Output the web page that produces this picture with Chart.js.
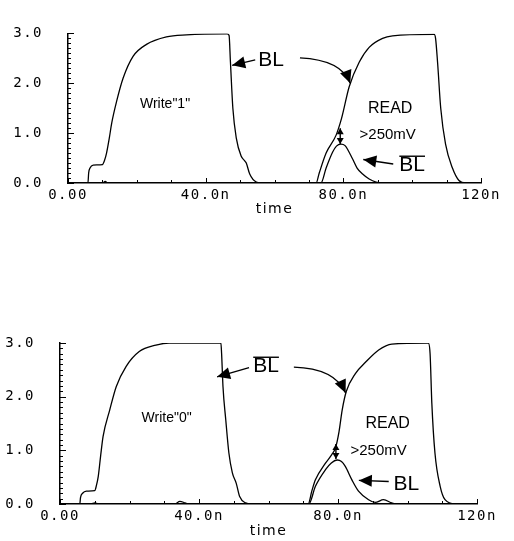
<!DOCTYPE html>
<html>
<head>
<meta charset="utf-8">
<script src="https://cdn.jsdelivr.net/npm/chart.js@4.4.1/dist/chart.umd.min.js"></script>
<style>
  html, body { margin: 0; padding: 0; background: #fff; }
  #wrap { position: relative; width: 514px; height: 541px; }
  .panel { position: absolute; left: 0; width: 514px; }
  #topPanel { top: 0; height: 250px; }
  #bottomPanel { top: 260px; height: 281px; }
</style>
</head>
<body>
<div id="wrap">
  <div class="panel" id="topPanel"><canvas id="topChart" width="514" height="250"></canvas></div>
  <div class="panel" id="bottomPanel"><canvas id="bottomChart" width="514" height="281"></canvas></div>
</div>
<script>
// axes
const xTicks = [0, 40, 80, 120];
const xTickLabels = ['0.00', '40.0n', '80.0n', '120n'];
const yTicks = [0, 1, 2, 3];
const yTickLabels = ['0.0', '1.0', '2.0', '3.0'];

// Write "1" then READ: BL swings full rail, BLbar only bumps
const write1Time = [0, 5.8, 6.0, 6.4, 7.3, 10.0, 10.6, 11.2, 12.0, 12.7, 14.1, 16.0, 18.9, 22.8, 28.6, 34.4, 46.2, 46.8, 47.2, 47.9, 48.9, 50.3, 51.4, 51.8, 52.8, 54.7, 56.5, 72.1, 73.0, 75.0, 77.9, 79.5, 81.7, 84.6, 87.5, 91.4, 94.3, 106.4, 106.8, 107.4, 108.3, 109.7, 111.7, 113.6, 115.6, 120];
const write1BL = [0, 0, 0.2, 0.3, 0.36, 0.37, 0.45, 0.6, 0.9, 1.2, 1.63, 2.1, 2.54, 2.78, 2.93, 2.97, 2.99, 2.96, 2.42, 1.5, 0.9, 0.54, 0.44, 0.4, 0.18, 0.02, 0, 0, 0.2, 0.6, 0.96, 1.3, 1.93, 2.42, 2.72, 2.9, 2.95, 2.98, 2.9, 2.4, 1.5, 0.78, 0.3, 0.05, 0, 0];
const write1BlbTime = [0, 10, 10.8, 11.6, 73.5, 75.0, 76.9, 78.0, 79.3, 80.5, 82.7, 84.0, 85.6, 87.5, 89.5, 92.0, 120];
const write1Blb = [0, 0, 0.03, 0, 0, 0.3, 0.62, 0.74, 0.78, 0.75, 0.48, 0.3, 0.18, 0.08, 0.02, 0, 0];

// Write "0" then READ: BLbar swings, BL only bumps
const write0BlbTime = [0, 5.7, 5.9, 6.5, 7.6, 10.0, 10.5, 11.0, 11.7, 12.4, 14.3, 16.2, 19.0, 22.8, 27.6, 31.4, 46.3, 46.5, 46.9, 47.7, 48.6, 49.6, 50.7, 51.7, 53.4, 55, 71.4, 72.5, 73.5, 76.4, 78.2, 79.3, 80.3, 81.2, 82.4, 85.0, 87.9, 91.7, 95.5, 106.0, 106.5, 107.0, 107.9, 109.4, 110.8, 113.7, 120];
const write0Blb = [0, 0, 0.12, 0.2, 0.24, 0.25, 0.35, 0.51, 0.9, 1.26, 1.75, 2.19, 2.56, 2.84, 2.96, 3.0, 3.0, 2.81, 2.19, 1.57, 0.95, 0.58, 0.39, 0.14, 0.02, 0, 0, 0.25, 0.45, 0.76, 0.92, 1.05, 1.35, 1.75, 2.1, 2.43, 2.64, 2.87, 2.98, 3.0, 2.8, 1.88, 0.95, 0.33, 0.08, 0, 0];
const write0BlTime = [0, 9, 10, 11, 33, 34.5, 36, 37, 71.6, 73.5, 76.4, 78.0, 79.8, 81.0, 82.1, 84.0, 85.9, 88.8, 90.7, 93.1, 95.5, 97, 120];
const write0Bl = [0, 0, 0.02, 0, 0, 0.05, 0.02, 0, 0, 0.33, 0.64, 0.76, 0.82, 0.79, 0.70, 0.45, 0.24, 0.08, 0.03, 0.08, 0.02, 0, 0];

// labels and arrows, in data units (ns, V)
const write1Notes = [
  { type: 'text', at: [59.0, 2.47], text: 'BL', size: 21 },
  { type: 'arrow', from: [54.4, 2.47], to: [47.7, 2.36] },
  { type: 'arrow', from: [67.4, 2.51], ctrl: [79.5, 2.47], to: [82.0, 2.0] },
  { type: 'text', at: [28.2, 1.58], text: 'Write"1"', size: 14 },
  { type: 'text', at: [93.6, 1.49], text: 'READ', size: 16 },
  { type: 'text', at: [92.9, 0.96], text: '>250mV', size: 15 },
  { type: 'double', x: 79.1, from: 1.1, to: 0.78 },
  { type: 'arrow', from: [94.5, 0.38], to: [85.8, 0.47] },
  { type: 'text', at: [100.0, 0.36], text: 'BL', size: 21, bar: true }
];
const write0Notes = [
  { type: 'text', at: [59.3, 2.57], text: 'BL', size: 21, bar: true },
  { type: 'arrow', from: [54.4, 2.54], to: [45.2, 2.37] },
  { type: 'arrow', from: [67.3, 2.55], ctrl: [79.0, 2.53], to: [82.2, 2.07] },
  { type: 'text', at: [30.7, 1.6], text: 'Write"0"', size: 14 },
  { type: 'text', at: [94.3, 1.49], text: 'READ', size: 16 },
  { type: 'text', at: [91.7, 0.99], text: '>250mV', size: 15 },
  { type: 'double', x: 79.4, from: 1.12, to: 0.84 },
  { type: 'arrow', from: [94.6, 0.42], to: [86.0, 0.44] },
  { type: 'text', at: [99.7, 0.36], text: 'BL', size: 21 }
];

function points(xs, ys) {
  return xs.map((x, i) => ({ x, y: ys[i] }));
}

function arrowHead(ctx, fx, fy, tx, ty, len, half) {
  const a = Math.atan2(ty - fy, tx - fx);
  const bx = tx - len * Math.cos(a);
  const by = ty - len * Math.sin(a);
  ctx.beginPath();
  ctx.moveTo(tx, ty);
  ctx.lineTo(bx + half * Math.sin(a), by - half * Math.cos(a));
  ctx.lineTo(bx - half * Math.sin(a), by + half * Math.cos(a));
  ctx.closePath();
  ctx.fill();
}

function notesPlugin(notes) {
  return {
    id: 'notes',
    afterDatasetsDraw(chart) {
      const { ctx, scales: { x, y } } = chart;
      const px = (p) => [x.getPixelForValue(p[0]), y.getPixelForValue(p[1])];
      ctx.save();
      ctx.fillStyle = '#000';
      ctx.strokeStyle = '#000';
      ctx.lineWidth = 1.4;
      notes.forEach((n) => {
        if (n.type === 'text') {
          const [cx, cy] = px(n.at);
          ctx.font = `${n.size}px "Liberation Sans", Arial, sans-serif`;
          ctx.textAlign = 'center';
          ctx.textBaseline = 'middle';
          ctx.fillText(n.text, cx, cy);
          if (n.bar) {
            const w = ctx.measureText(n.text).width;
            const top = cy - n.size * 0.42;
            ctx.beginPath();
            ctx.moveTo(cx - w / 2, top);
            ctx.lineTo(cx + w / 2, top);
            ctx.stroke();
          }
        } else if (n.type === 'arrow') {
          const [fx, fy] = px(n.from);
          const [tx, ty] = px(n.to);
          const len = 13;
          ctx.beginPath();
          ctx.moveTo(fx, fy);
          if (n.ctrl) {
            const [qx, qy] = px(n.ctrl);
            ctx.quadraticCurveTo(qx, qy, tx, ty);
            ctx.stroke();
            arrowHead(ctx, qx, qy, tx, ty, len, 6);
          } else {
            ctx.lineTo(tx, ty);
            ctx.stroke();
            arrowHead(ctx, fx, fy, tx, ty, len, 6);
          }
        } else if (n.type === 'double') {
          const xx = x.getPixelForValue(n.x);
          const y1 = y.getPixelForValue(n.from);
          const y2 = y.getPixelForValue(n.to);
          ctx.beginPath();
          ctx.moveTo(xx, y1);
          ctx.lineTo(xx, y2);
          ctx.stroke();
          arrowHead(ctx, xx, y2, xx, y1, 6, 3.5);
          arrowHead(ctx, xx, y1, xx, y2, 6, 3.5);
        }
      });
      ctx.restore();
    }
  };
}

// slightly spaced axis text like the simulator printout
const spacingPlugin = {
  id: 'spacing',
  beforeDraw(chart) { chart.ctx.letterSpacing = '1.5px'; },
  beforeDatasetsDraw(chart) { chart.ctx.letterSpacing = '0px'; }
};

// inward minor ticks like the simulator plot
const axisTicksPlugin = {
  id: 'axisTicks',
  afterDraw(chart) {
    const { ctx, chartArea, scales: { x, y } } = chart;
    ctx.save();
    ctx.strokeStyle = '#000';
    ctx.lineWidth = 1;
    ctx.beginPath();
    for (let i = 0; i <= 30; i++) {
      const py = Math.round(y.getPixelForValue(i / 10)) + 0.5;
      ctx.moveTo(chartArea.left, py);
      ctx.lineTo(chartArea.left + (i % 10 === 0 ? 6 : 3), py);
    }
    for (let t = 0; t <= 120; t += 10) {
      const pxx = Math.round(x.getPixelForValue(t)) + 0.5;
      ctx.moveTo(pxx, chartArea.bottom);
      ctx.lineTo(pxx, chartArea.bottom - (t % 40 === 0 ? 5 : 3));
    }
    ctx.stroke();
    ctx.restore();
  }
};

function makeChart(canvasId, series, notes, box) {
  const canvas = document.getElementById(canvasId);
  return new Chart(canvas, {
    type: 'line',
    data: {
      datasets: series.map((s) => ({
        label: s.label,
        data: points(s.time, s.values),
        borderColor: '#000',
        borderWidth: 1.3,
        pointRadius: 0,
        fill: false,
        cubicInterpolationMode: 'monotone'
      }))
    },
    options: {
      responsive: false,
      animation: false,
      devicePixelRatio: 1,
      layout: {
        padding: {
          left: 0,
          top: box.top,
          right: canvas.width - box.right,
          bottom: canvas.height - box.bottom - box.axisH
        }
      },
      plugins: { legend: { display: false }, tooltip: { enabled: false } },
      scales: {
        x: {
          type: 'linear',
          min: 0,
          max: 120,
          afterBuildTicks: (s) => { s.ticks = xTicks.map((v) => ({ value: v })); },
          afterFit: (s) => { s.height = box.axisH; },
          ticks: {
            autoSkip: false,
            maxRotation: 0,
            padding: 4,
            color: '#000',
            font: { family: '"DejaVu Sans Mono", monospace', size: 14 },
            callback: (v) => xTickLabels[xTicks.indexOf(v)]
          },
          grid: { display: true, drawOnChartArea: false, drawTicks: false },
          border: { display: true, color: '#000', width: 1.5 },
          title: {
            display: true,
            text: 'time',
            color: '#000',
            padding: 0,
            font: { family: '"DejaVu Sans", sans-serif', size: 14 }
          }
        },
        y: {
          type: 'linear',
          min: 0,
          max: 3,
          afterBuildTicks: (s) => { s.ticks = yTicks.map((v) => ({ value: v })); },
          afterFit: (s) => { s.width = box.left; },
          ticks: {
            padding: box.labelPad,
            color: '#000',
            font: { family: '"DejaVu Sans Mono", monospace', size: 14 },
            callback: (v) => yTickLabels[yTicks.indexOf(v)]
          },
          grid: { display: true, drawOnChartArea: false, drawTicks: false },
          border: { display: true, color: '#000', width: 1.5 }
        }
      }
    },
    plugins: [spacingPlugin, axisTicksPlugin, notesPlugin(notes)]
  });
}

makeChart('topChart', [
  { label: 'BL', time: write1Time, values: write1BL },
  { label: 'BLB', time: write1BlbTime, values: write1Blb }
], write1Notes, { left: 68, right: 481, top: 18, bottom: 183, axisH: 35, labelPad: 25 });

makeChart('bottomChart', [
  { label: 'BLB', time: write0BlbTime, values: write0Blb },
  { label: 'BL', time: write0BlTime, values: write0Bl }
], write0Notes, { left: 60, right: 477, top: 83, bottom: 244, axisH: 36, labelPad: 25 });
</script>
</body>
</html>
